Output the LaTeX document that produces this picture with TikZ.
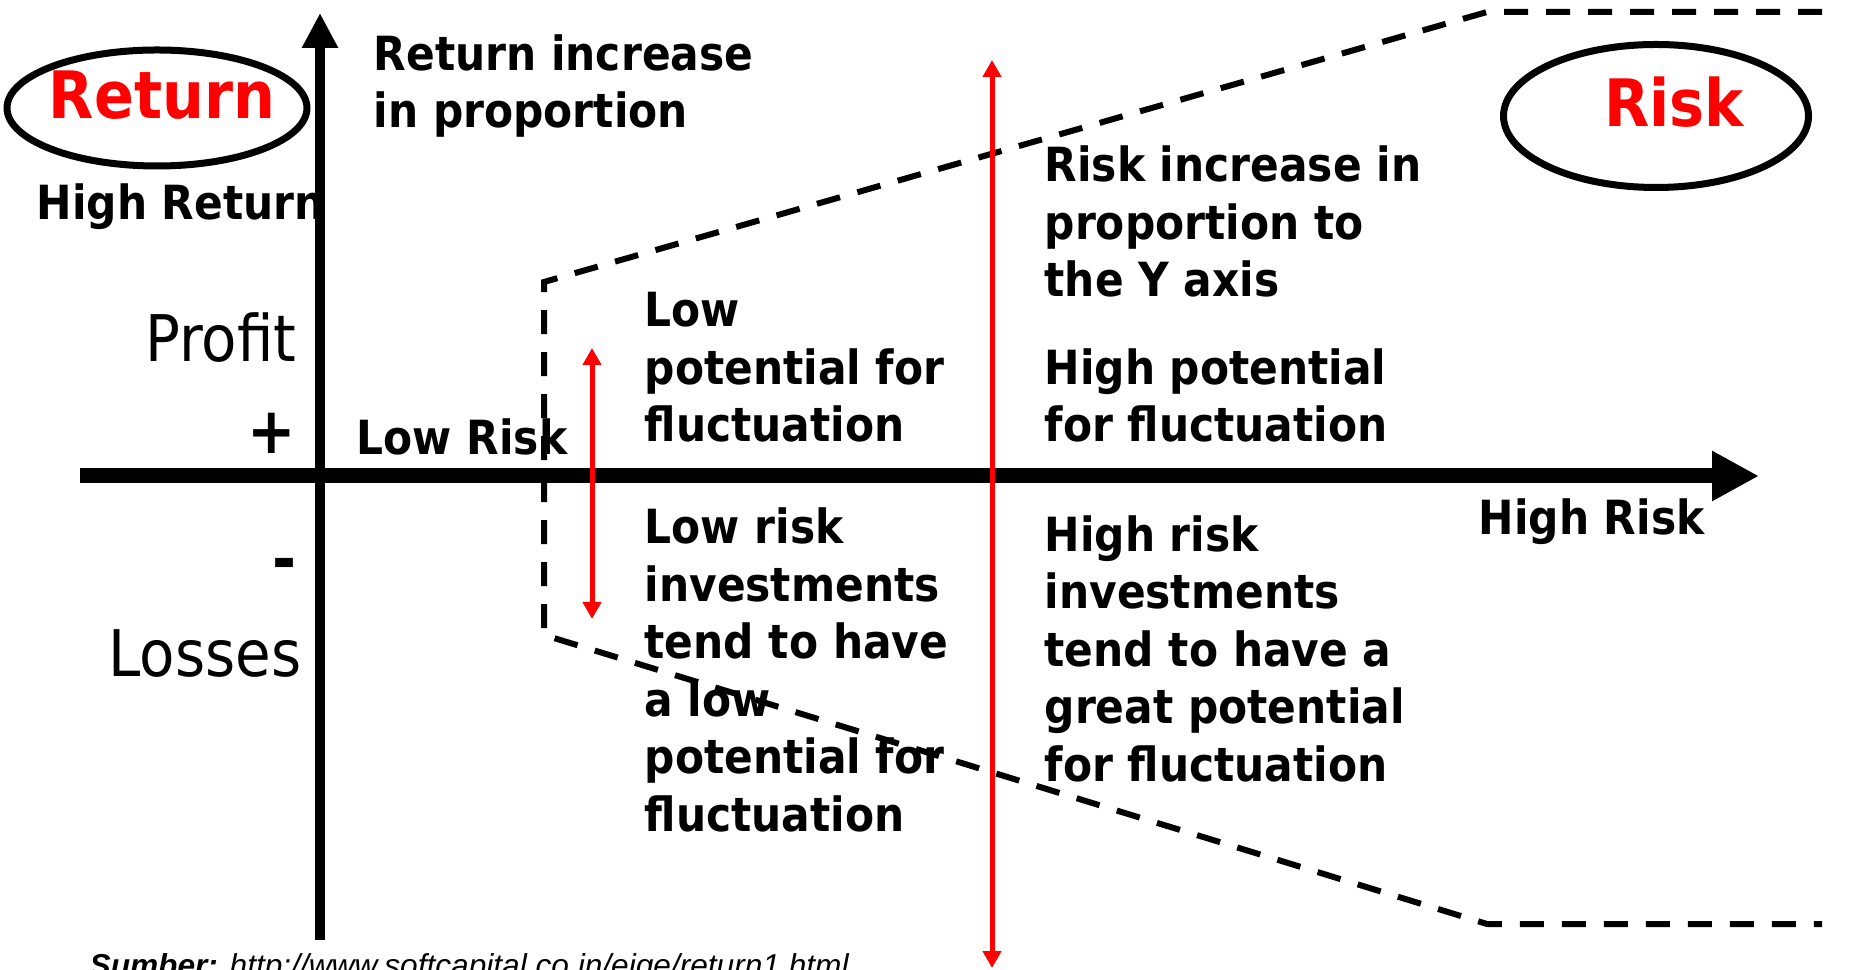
\documentclass[tikz,border=0pt]{standalone}
\usepackage{fontspec}
\newfontfamily\tahoma{DejaVu Sans Condensed}
\newfontfamily\arialfont{Liberation Sans}
\usetikzlibrary{arrows.meta,shapes.geometric}

\tikzstyle {body} = [anchor=base west, inner sep=0, align=left, font=\tahoma\bfseries\fontsize{13.4}{16.36}\selectfont]
\tikzstyle {bigword} = [anchor=base east, inner sep=0, font=\tahoma\fontsize{18.3}{22}\selectfont]
\tikzstyle {title} = [anchor=base, inner sep=0, text=red, font=\tahoma\bfseries\fontsize{18.6}{23}\selectfont]
\tikzstyle {oval} = [draw, ellipse, line width=0.7mm, inner sep=0]
\tikzstyle {axis} = [draw, line width=1mm, -{Triangle[length=3.5mm, width=3.4mm]}]
\tikzstyle {funnel} = [draw, line width=0.6mm, dash pattern=on 2.4mm off 1.8mm]
\tikzstyle {swing} = [draw=red, line width=0.5mm, {Triangle[length=1.7mm, width=1.8mm]}-{Triangle[length=1.7mm, width=1.8mm]}]

\begin{document}
\begin{tikzpicture}[x=0.1mm, y=-0.1mm]
            \useasboundingbox (0,0) rectangle (1861,970);

            % risk funnel
            \coordinate (topright) at (1822,12);
            \coordinate (topbend) at (1487,12);
            \coordinate (upperleft) at (544,282);
            \coordinate (lowerleft) at (544,635);
            \coordinate (botbend) at (1487,924);
            \coordinate (botright) at (1822,924);
            \draw [funnel] (topright) -- (topbend) -- (upperleft) -- (lowerleft) -- (botbend) -- (botright);

            % ovals
            \node [oval, minimum width=30mm, minimum height=11.6mm] (returnoval) at (157,108) {};
            \node [title] (returnlabel) at (162,119) {Return};
            \node [oval, minimum width=30.5mm, minimum height=14.3mm] (riskoval) at (1656,116) {};
            \node [title] (risklabel) at (1674,127) {Risk};

            % texts (multi-line nodes sit on their last baseline)
            \node [body] (highreturn) at (36,220) {High Return};
            \node [body] (returninc) at (373,128) {Return increase\\in proportion};
            \node [bigword] (profit) at (297,362) {Profit};
            \node [bigword, font=\tahoma\bfseries\fontsize{18.3}{22}\selectfont] (plus) at (297,454) {+};
            \node [bigword, font=\tahoma\bfseries\fontsize{18.3}{22}\selectfont] (minus) at (297,582) {-};
            \node [bigword] (losses) at (302,677) {Losses};
            \node [body] (lowrisk) at (356,455) {Low Risk};
            \node [body] (lowpot) at (644,442) {Low\\potential for\\fluctuation};
            \node [body] (lowinv) at (644,831) {Low risk\\investments\\tend to have\\a low\\potential for\\fluctuation};
            \node [body] (riskinc) at (1044,297) {Risk increase in\\proportion to\\the Y axis};
            \node [body] (highpot) at (1044,442) {High potential\\for fluctuation};
            \node [body] (highinv) at (1044,781) {High risk\\investments\\tend to have a\\great potential\\for fluctuation};
            \node [body] (highrisk) at (1478,535) {High Risk};
            \node [anchor=base west, inner sep=0, font=\arialfont\itshape\fontsize{9}{11}\selectfont] (source) at (89,976) {\bfseries Sumber:\mdseries{} http://www.softcapital.co.in/eige/return1.html};

            % axes
            \coordinate (yfoot) at (320,940);
            \coordinate (yhead) at (320,13);
            \coordinate (xfoot) at (80,476);
            \coordinate (xhead) at (1759,476);
            \draw [axis] (yfoot) -- (yhead);
            \draw [axis, line width=1.5mm, -{Triangle[length=4.7mm, width=4.7mm]}] (xfoot) -- (xhead);

            % fluctuation arrows
            \coordinate (lowtop) at (592,348);
            \coordinate (lowbot) at (592,619);
            \coordinate (hightop) at (992,60);
            \coordinate (highbot) at (992,968);
            \draw [swing] (lowtop) -- (lowbot);
            \draw [swing] (hightop) -- (highbot);
        \end{tikzpicture}
\end{document}
